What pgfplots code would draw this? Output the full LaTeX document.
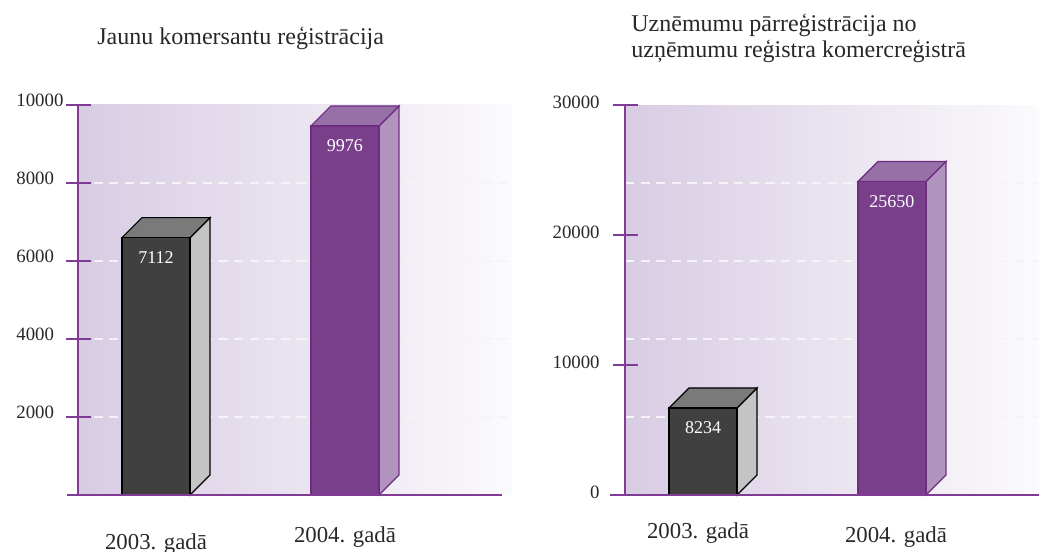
\documentclass[border=0pt]{standalone}
\usepackage{fontspec}
\setmainfont{Liberation Serif}
\usepackage{pgfplots}
\pgfplotsset{compat=1.18}

\definecolor{axpurple}{RGB}{128,60,148}
\definecolor{bgl}{RGB}{216,204,227}
\definecolor{bgr}{RGB}{251,250,252}
\definecolor{dfront}{RGB}{64,64,64}
\definecolor{dtop}{RGB}{122,122,122}
\definecolor{dside}{RGB}{196,196,196}
\definecolor{pfront}{RGB}{121,63,138}
\definecolor{ptop}{RGB}{150,112,166}
\definecolor{pside}{RGB}{176,148,190}
\definecolor{pline}{RGB}{110,44,128}
\definecolor{txt}{RGB}{40,40,40}
\definecolor{gridc}{RGB}{246,243,248}

\tikzset{
  dark front/.style={fill=dfront, draw=black, line width=0.6pt, mark=none},
  dark top/.style={fill=dtop, draw=black, line width=0.6pt, mark=none},
  dark side/.style={fill=dside, draw=black, line width=0.6pt, mark=none},
  purple front/.style={fill=pfront, draw=pline, line width=0.6pt, mark=none},
  purple top/.style={fill=ptop, draw=pline, line width=0.6pt, mark=none},
  purple side/.style={fill=pside, draw=pline, line width=0.6pt, mark=none},
  barlabel/.style={text=white, font=\fontsize{9}{10}\selectfont, yshift=-10pt, inner sep=0pt},
  catlabel/.style={text=txt, font=\fontsize{11.4}{13}\selectfont, anchor=base, inner sep=0pt},
  titlelabel/.style={text=txt, font=\fontsize{12}{14}\selectfont, anchor=base west, inner sep=0pt},
}

% #1 category position, #2 value, #3 depth in x units, #4 depth in y units, #5 style family
\newcommand\barthreed[5]{%
  \edef\xl{\fpeval{#1-0.18}}%
  \edef\xr{\fpeval{#1+0.18}}%
  \edef\xlb{\fpeval{#1-0.18+#3}}%
  \edef\xrb{\fpeval{#1+0.18+#3}}%
  \edef\yf{\fpeval{#2-#4}}%
  \edef\temp{%
    \noexpand\addplot[#5 side] coordinates {(\xr,0) (\xrb,#4) (\xrb,#2) (\xr,\yf)} -- cycle;
    \noexpand\addplot[#5 top] coordinates {(\xl,\yf) (\xr,\yf) (\xrb,#2) (\xlb,#2)} -- cycle;
    \noexpand\addplot[#5 front] coordinates {(\xl,0) (\xr,0) (\xr,\yf) (\xl,\yf)} -- cycle;
    \noexpand\node[barlabel] at (axis cs:#1,\yf) {#2};
  }\temp}

\pgfplotsset{
  panel/.style={
    scale only axis, clip=false,
    height=195pt, ymin=0,
    axis line style={draw=none},
    xtick=\empty,
    ytick pos=left,
    tick align=center,
    major tick length=12.5pt,
    ytick style={axpurple, line width=0.75pt},
    scaled y ticks=false,
    axis background/.style={left color=bgl, right color=bgr},
    major grid style={gridc, line width=0.75pt, dash pattern=on 4.6pt off 3.2pt},
  }
}

\begin{document}
\begin{tikzpicture}
\useasboundingbox (0,0) rectangle (520.5pt,276pt);

\node[titlelabel] at (48.5pt,253.5pt) {Jaunu komersantu reģistrācija};
\node[titlelabel] at (315.5pt,260pt) {Uznēmumu pārreģistrācija no};
\node[titlelabel] at (315.5pt,247pt) {uzņēmumu reģistra komercreģistrā};

% Left panel
\begin{axis}[panel,
  at={(39pt,28.5pt)}, anchor=south west,
  width=217pt,
  xmin=-0.413, xmax=1.884, ymax=10000,
  ytick={2000,4000,6000,8000},
  yticklabels={2000,4000,6000,8000},
  ymajorgrids,
  extra y ticks={10000},
  extra y tick labels={10000},
  yticklabel style={anchor=west, inner sep=0pt, xshift=-24.75pt, yshift=2.5pt, text=txt, font=\fontsize{9.4}{10}\selectfont},
  extra y tick style={grid=none},
]
\barthreed{0}{7112}{0.1058}{512.8}{dark}
\barthreed{1}{9976}{0.1058}{512.8}{purple}
\draw[axpurple, line width=0.75pt] (rel axis cs:0,0) -- (rel axis cs:0,1);
\draw[axpurple, line width=0.75pt] ([xshift=-5.5pt]rel axis cs:0,0) -- ([xshift=-5pt]rel axis cs:1,0);
\node[catlabel] at ([yshift=-27.5pt]axis cs:0,0) {2003. gadā};
\node[catlabel] at ([yshift=-24pt]axis cs:1,0) {2004. gadā};
\end{axis}

% Right panel
\begin{axis}[panel,
  at={(312.5pt,28.5pt)}, anchor=south west,
  width=207pt,
  xmin=-0.413, xmax=1.778, ymax=30000,
  ytick={0,10000,20000,30000},
  yticklabels={0,10000,20000,30000},
  yticklabel style={anchor=east, inner sep=0pt, xshift=-6.25pt, yshift=1.5pt, text=txt, font=\fontsize{9.4}{10}\selectfont},
  extra y ticks={6000,12000,18000,24000},
  extra y tick labels={},
  extra y tick style={grid=major, major tick length=0pt},
]
\barthreed{0}{8234}{0.1058}{1538.5}{dark}
\barthreed{1}{25650}{0.1058}{1538.5}{purple}
\draw[axpurple, line width=0.75pt] (rel axis cs:0,0) -- (rel axis cs:0,1);
\draw[axpurple, line width=0.75pt] ([xshift=-7.5pt]rel axis cs:0,0) -- (rel axis cs:1,0);
\node[catlabel] at ([xshift=-2.5pt,yshift=-22pt]axis cs:0,0) {2003. gadā};
\node[catlabel] at ([xshift=2pt,yshift=-23.5pt]axis cs:1,0) {2004. gadā};
\end{axis}
\end{tikzpicture}
\end{document}
